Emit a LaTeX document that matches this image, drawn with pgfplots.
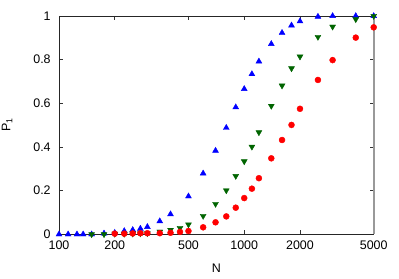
\documentclass[border=0pt]{standalone}
\usepackage{fontspec}
\setmainfont{Liberation Sans}
\usepackage{pgfplots}
\usepackage{pgfplotstable}
\pgfplotsset{compat=1.18}
\definecolor{pblue}{RGB}{0,0,255}
\definecolor{pgreen}{RGB}{0,100,0}
\definecolor{pred}{RGB}{255,0,0}
\pgfplotstableread{
N P
100 0.000
112 0.000
125 0.000
135 0.000
150 0.000
175 0.004
200 0.007
225 0.015
250 0.020
275 0.026
300 0.034
350 0.060
400 0.092
500 0.174
600 0.279
700 0.383
800 0.488
900 0.582
1000 0.666
1100 0.734
1200 0.792
1400 0.872
1600 0.923
1800 0.957
2000 0.976
2500 0.997
3000 1.000
4000 1.000
5000 1.000
}\blueL
\pgfplotstableread{
N P
150 0.000
175 0.000
200 0.002
225 0.002
250 0.003
275 0.004
300 0.005
350 0.012
400 0.020
450 0.029
500 0.045
600 0.084
700 0.139
800 0.201
900 0.267
1000 0.334
1100 0.401
1200 0.467
1400 0.588
1600 0.681
1800 0.760
2000 0.814
2500 0.904
3000 0.951
4000 0.985
5000 1.000
}\greenL
\pgfplotstableread{
N P
200 0.003
225 0.003
250 0.004
275 0.005
300 0.005
350 0.005
400 0.007
450 0.011
500 0.015
600 0.032
700 0.055
800 0.082
900 0.122
1000 0.166
1100 0.209
1200 0.257
1400 0.348
1600 0.432
1800 0.501
2000 0.575
2500 0.707
3000 0.798
4000 0.901
5000 0.948
}\redL
\begin{document}
\fontsize{12.5}{15}\selectfont
\begin{tikzpicture}
\path[use as bounding box] (-59bp,-44.7bp) rectangle (340bp,234.3bp);
\begin{axis}[
  at={(0,0)}, anchor=south west,
  scale only axis, width=314.7bp, height=218.3bp,
  xmode=log, xmin=100, xmax=5000, ymin=0, ymax=1,
  xtick={100,200,500,1000,2000,5000},
  xticklabels={100,200,500,1000,2000,5000},
  ytick={0,0.2,0.4,0.6,0.8,1},
  yticklabels={0,0.2,0.4,0.6,0.8,1},
  minor x tick num=0,
  minor xtick={},
  tick align=inside,
  major tick length=4bp,
  tick style={black!80, line width=0.6bp},
  axis line style={black!85, line width=0.8bp},
  ticklabel style={font=\fontsize{12.5}{15}\selectfont},
  xticklabel style={yshift=-2bp},
  yticklabel style={xshift=-4bp},
  xlabel={N},
  ylabel={P\textsubscript{1}},
  xlabel style={at={(axis description cs:0.5,-0.154)}, anchor=center},
  ylabel style={at={(axis description cs:-0.165,0.5)}, anchor=center},
  label style={font=\fontsize{12.5}{15}\selectfont},
  clip=false,
]
\addplot[only marks, mark=triangle*, mark size=3.4bp, color=pblue] table[x=N, y=P] {\blueL};
\addplot[only marks, mark=triangle*, mark size=3.4bp, color=pgreen, mark options={rotate=180}] table[x=N, y=P] {\greenL};
\addplot[only marks, mark=*, mark size=3bp, color=pred] table[x=N, y=P] {\redL};
\draw[black!40, line width=1.6bp] (rel axis cs:1,0) -- (rel axis cs:1,1);
\end{axis}
\end{tikzpicture}
\end{document}
